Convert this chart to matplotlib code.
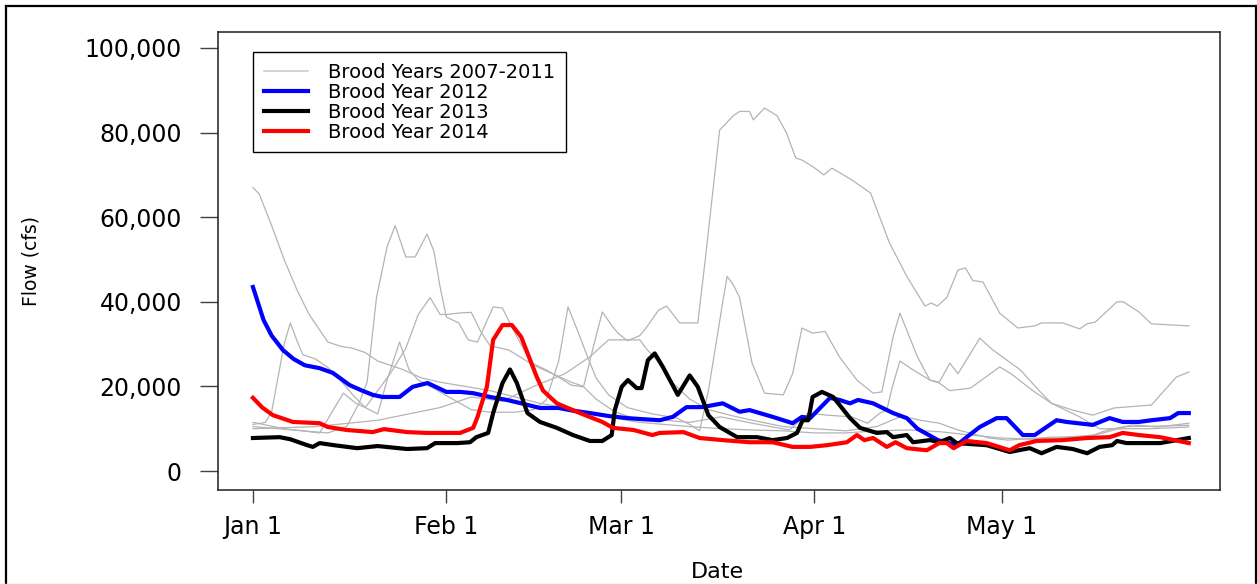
#!/usr/bin/env python3
"""Daily flow Jan-May for brood years 2007-2014 (grey = 2007-2011)."""
import matplotlib
matplotlib.use("Agg")
import matplotlib.pyplot as plt
from matplotlib.lines import Line2D

# day 0 = Jan 1
tick_days = [0, 31, 59, 90, 120]
tick_labels = ["Jan 1", "Feb 1", "Mar 1", "Apr 1", "May 1"]
y_ticks = [0, 20000, 40000, 60000, 80000, 100000]
y_labels = ["0", "20,000", "40,000", "60,000", "80,000", "100,000"]
legend_labels = ["Brood Years 2007-2011", "Brood Year 2012", "Brood Year 2013", "Brood Year 2014"]

# grey years 2007-2011
g1_days = [0, 1, 3, 5, 7, 9, 12, 14, 16, 18, 20, 24, 27, 30, 34, 38, 42, 46, 50, 54,
           58, 62, 66, 70, 75, 80, 85, 90, 95, 100, 105, 110, 115, 120, 125, 130, 135, 140, 145, 150]
g1_vals = [67000, 65500, 58000, 50000, 43000, 37000, 30500, 29500, 29000, 28000, 26000, 24000,
           22000, 21000, 20000, 19000, 17500, 16000, 15000, 14000, 12500, 11500, 11000, 10500,
           10000, 9700, 9500, 9000, 9000, 9500, 9700, 9300, 8500, 7800, 7500, 8000, 8500, 10500,
           10600, 10800]

g2_days = [0, 2, 3, 5, 6, 7, 8, 10, 12, 14, 16, 18, 20, 21.5, 23.5, 25, 26.5, 29, 32, 35, 38,
           42, 45, 47, 49, 50.5, 52, 53.5, 55, 57, 60, 64, 68, 70, 71.6, 73, 74.5, 75.3, 76, 77,
           78, 80, 82, 85, 86.5, 88, 89.7, 91.7, 94, 96.8, 99.4, 100.8, 102.6, 103.7, 104.8,
           106.5, 108.5, 110, 111.7, 113, 116.5, 118.6, 123, 126, 128, 131.4, 134.6, 138, 144,
           148, 150]
g2_vals = [11000, 11500, 14000, 30000, 35000, 31000, 27500, 26500, 24500, 21500, 18000, 15000,
           13500, 21500, 30500, 24000, 21500, 19500, 17000, 14500, 13900, 13900, 14500, 16800,
           26000, 38800, 33300, 27500, 22000, 18000, 15000, 13500, 12500, 11000, 9500, 19000,
           32600, 40000, 46000, 44000, 41000, 25500, 18400, 18000, 23000, 33800, 32600, 33000,
           27000, 21500, 18400, 18700, 31700, 37300, 33300, 27000, 21500, 21000, 25500, 23000,
           31400, 28600, 23900, 19000, 16000, 14400, 13200, 14900, 15600, 22200, 23400]

g3_days = [0, 4, 8, 12, 15, 17, 18.3, 19.8, 21.5, 22.8, 24.5, 26, 27.9, 29, 30, 31, 33, 34.5,
           36, 37.5, 38.5, 40, 41.5, 44.5, 47, 49, 51, 53, 55, 58, 62, 66, 70, 75, 80, 86, 89,
           92, 96, 98.5, 100.5, 101.6, 102.5, 103.7, 105.8, 108.5, 110, 111.7, 115, 119.7,
           121.5, 125, 128, 132.5, 135.7, 144, 150]
g3_vals = [10500, 10000, 9500, 9000, 10500, 16000, 21000, 41000, 53000, 58000, 50600, 50600,
           56000, 52000, 43500, 36400, 35000, 31000, 30500, 35500, 38800, 38500, 34000, 25700,
           23900, 22200, 20300, 19900, 17000, 14000, 12000, 12000, 11500, 12800, 11300, 9700,
           13700, 13200, 12800, 11300, 13700, 14400, 20000, 26000, 23900, 21500, 20800, 19000,
           19600, 24600, 23000, 19000, 16000, 12800, 10000, 10000, 10400]

g4_days = [0, 5, 10.7, 13.5, 14.5, 16.5, 18, 20, 22, 24.5, 26.5, 28.4, 30, 31, 33.5, 35, 36.5,
           38, 41, 45, 48, 51, 53, 54.5, 56, 57.7, 58.5, 60, 62, 63.1, 65, 66.3, 68.4, 71.3,
           72.5, 74.8, 77, 78, 79.6, 80.2, 82, 84, 85.5, 87, 88, 89.7, 91.5, 92.8, 96, 99, 102,
           104.8, 107.7, 108.7, 109.7, 111.2, 113, 114.2, 115.4, 117, 119.7, 122.6, 125.3,
           126.4, 129.8, 132.5, 133.7, 135, 138.5, 139.5, 142, 144, 150]
g4_vals = [11500, 10000, 9000, 16000, 18400, 16000, 15000, 19000, 23000, 29000, 37000, 41000,
           37000, 37000, 37400, 37500, 33000, 29600, 28600, 25000, 23000, 21000, 20000, 29000,
           37600, 34000, 32600, 30800, 32000, 34000, 38000, 39000, 35000, 35000, 50000, 80600,
           84000, 85000, 85000, 83000, 85800, 84000, 80000, 74000, 73500, 72000, 70000, 71600,
           68800, 65700, 54000, 46000, 39000, 39700, 39000, 41000, 47500, 48000, 45000, 44700,
           37300, 33800, 34300, 35000, 35000, 33600, 34800, 35200, 40000, 40000, 37600, 34800,
           34300]

g5_days = [0, 10, 20, 30, 35, 40, 45, 50, 54, 57, 60, 62, 63, 65.7, 67.3, 70, 73, 77, 80, 85,
           90, 95, 100, 104, 107, 110, 113, 118, 121, 128, 133.7, 137, 141, 145, 150]
g5_vals = [10000, 10500, 12000, 15000, 17500, 16500, 20000, 23000, 27000, 31000, 31000, 31000,
           29000, 24600, 20800, 17000, 14500, 13000, 12000, 10500, 10000, 9500, 10500, 13000,
           12000, 11300, 9700, 7800, 7300, 8000, 8000, 9700, 10900, 10400, 11300]

# 2012
by12_days = [0, 1.7, 3, 4.8, 6.5, 8.3, 10.7, 12.8, 15.5, 17.5, 19.2, 20.8, 23.5, 25.6, 28, 31,
             33.2, 35.3, 38, 40.7, 43, 46, 49, 51.5, 54, 57, 60, 62, 65.2, 67.3, 69.5, 72, 75.3,
             78, 79.6, 83.3, 86.5, 88, 89.3, 92.5, 94, 95.7, 97, 99.4, 102.6, 104.8, 106.5,
             109.8, 112.8, 114.4, 116.5, 119.2, 120.8, 123.4, 125.3, 128.8, 130.4, 134.6, 137.3,
             139.4, 142, 144, 147, 148.3, 150]
by12_vals = [43500, 35700, 32000, 28600, 26500, 25000, 24300, 23200, 20300, 19000, 18000, 17500,
             17500, 19900, 20800, 18700, 18700, 18400, 17500, 16800, 16000, 14900, 14900, 14200,
             13700, 13000, 12500, 12300, 12000, 12800, 15100, 15100, 16000, 14000, 14400, 12800,
             11300, 12800, 12500, 17300, 16800, 16000, 16800, 16000, 13700, 12500, 10000, 7300,
             6100, 8000, 10400, 12500, 12500, 8500, 8500, 12000, 11600, 10900, 12500, 11600,
             11600, 12000, 12500, 13700, 13700]

# 2013
by13_days = [0, 4.3, 6, 8.7, 9.6, 10.7, 13, 16.7, 20, 24.7, 27.9, 29.2, 31, 32.7, 34.8, 35.8,
             37.7, 38.5, 40, 41.2, 42.3, 44, 46, 48.7, 51.3, 54, 56, 57.5, 58, 59.1, 60.1, 61.5,
             62.3, 63.3, 64.4, 65.7, 68.1, 70, 71.3, 73, 74.8, 77.6, 80.8, 83.3, 85.6, 87.2,
             88.1, 89, 89.7, 91.2, 93, 95.7, 97.3, 100, 101.6, 102.6, 104.8, 105.8, 108.5, 110,
             111.7, 112.8, 117.6, 121.3, 124.5, 126.4, 128.8, 131.4, 133.7, 135.7, 137.7, 138.5,
             140, 145.4, 150]
by13_vals = [7800, 8000, 7500, 6100, 5700, 6600, 6100, 5400, 5900, 5200, 5400, 6600, 6600, 6600,
             6800, 8000, 9000, 13700, 20800, 24000, 20800, 13700, 11600, 10200, 8500, 7100, 7100,
             8500, 14400, 19900, 21500, 19600, 19600, 26200, 27800, 24600, 18000, 22600, 19900,
             13200, 10400, 8000, 8000, 7300, 7800, 9000, 12000, 12000, 17500, 18700, 17500,
             12500, 10200, 9000, 9200, 8000, 8500, 6800, 7300, 6800, 7800, 6600, 6100, 4500,
             5400, 4200, 5700, 5200, 4200, 5700, 6100, 7100, 6600, 6600, 7800]

# 2014
by14_days = [0, 1.5, 3.2, 6.4, 10.7, 12, 15, 19.2, 21, 24.7, 27.9, 30, 33.2, 35.3, 36, 37.5,
             38.5, 40, 41.5, 43, 45.5, 46.5, 48.7, 52.4, 56, 57.7, 61, 64, 65.2, 69, 71.6, 75.3,
             79.6, 83.3, 86.5, 89.3, 92, 95.2, 96.8, 98, 99.4, 101.6, 103, 104.8, 108, 110,
             111.2, 112.3, 114.4, 117.6, 121.3, 122.8, 125.6, 129.8, 133.7, 137.3, 139.4, 142,
             145.4, 150]
by14_vals = [17300, 15000, 13200, 11600, 11300, 10400, 9700, 9200, 9900, 9200, 9000, 9000, 9000,
             10200, 12800, 19900, 31000, 34500, 34500, 31700, 22200, 19000, 16000, 13700, 11600,
             10200, 9700, 8500, 9000, 9200, 7800, 7300, 6800, 6800, 5700, 5700, 6100, 6800,
             8500, 7300, 7800, 5700, 6800, 5400, 4900, 6600, 6600, 5400, 7100, 6600, 4900, 6100,
             7100, 7300, 7800, 8000, 9000, 8500, 8000, 6600]

GREY = "#b4b4b4"
W, H = 1257, 584
fig = plt.figure(figsize=(W / 100, H / 100), dpi=100)
ax = fig.add_axes([218 / W, 1 - 490 / H, (1220 - 218) / W, (490 - 32) / H])

for d, v in [(g1_days, g1_vals), (g2_days, g2_vals), (g3_days, g3_vals),
             (g4_days, g4_vals), (g5_days, g5_vals)]:
    ax.plot(d, v, color=GREY, lw=0.9)
ax.plot(by12_days, by12_vals, color="#0000ff", lw=3.0, solid_joinstyle="round")
ax.plot(by13_days, by13_vals, color="black", lw=3.0, solid_joinstyle="round")
ax.plot(by14_days, by14_vals, color="#ff0000", lw=3.0, solid_joinstyle="round")

ax.set_xlim(-5.6, 155.0)
ax.set_ylim(-4490, 103780)
ax.set_xticks(tick_days)
ax.set_xticklabels(tick_labels)
ax.set_yticks(y_ticks)
ax.set_yticklabels(y_labels)
ax.tick_params(axis="y", length=13, width=1, color="#404040", pad=13, labelsize=17)
ax.tick_params(axis="x", length=9, width=1, color="#404040", pad=9, labelsize=17)
for s in ax.spines.values():
    s.set_color("#303030"); s.set_linewidth(1.2)

ax.set_ylabel("Flow (cfs)", fontsize=13.5)
ax.yaxis.set_label_coords(-0.177, 0.5)
fig.text(717 / W, 1 - 582 / H, "Date", ha="center", va="bottom", fontsize=16)

handles = [Line2D([], [], color="#cccccc", lw=1.2), Line2D([], [], color="#0000ff", lw=3.0),
           Line2D([], [], color="black", lw=3.0), Line2D([], [], color="#ff0000", lw=3.0)]
leg = ax.legend(handles, legend_labels, loc="upper left", bbox_to_anchor=(0.0349, 0.9563),
                borderaxespad=0, fancybox=False, framealpha=1, edgecolor="black",
                fontsize=14, handlelength=2.3, handletextpad=1.0, labelspacing=0.05,
                borderpad=0.55)
leg.get_frame().set_linewidth(1.0)

# outer frame of the slide image
fig.add_artist(Line2D([6 / W, 6 / W], [0, 1 - 6 / H], color="black", lw=1.6))
fig.add_artist(Line2D([6 / W, 1255 / W], [1 - 6 / H, 1 - 6 / H], color="black", lw=1.6))
fig.add_artist(Line2D([1255.5 / W, 1255.5 / W], [0, 1 - 6 / H], color="black", lw=1.6))
fig.add_artist(Line2D([0, 1], [0.5 / H, 0.5 / H], color="#dddddd", lw=1.0))

fig.savefig("out.png", dpi=100)
